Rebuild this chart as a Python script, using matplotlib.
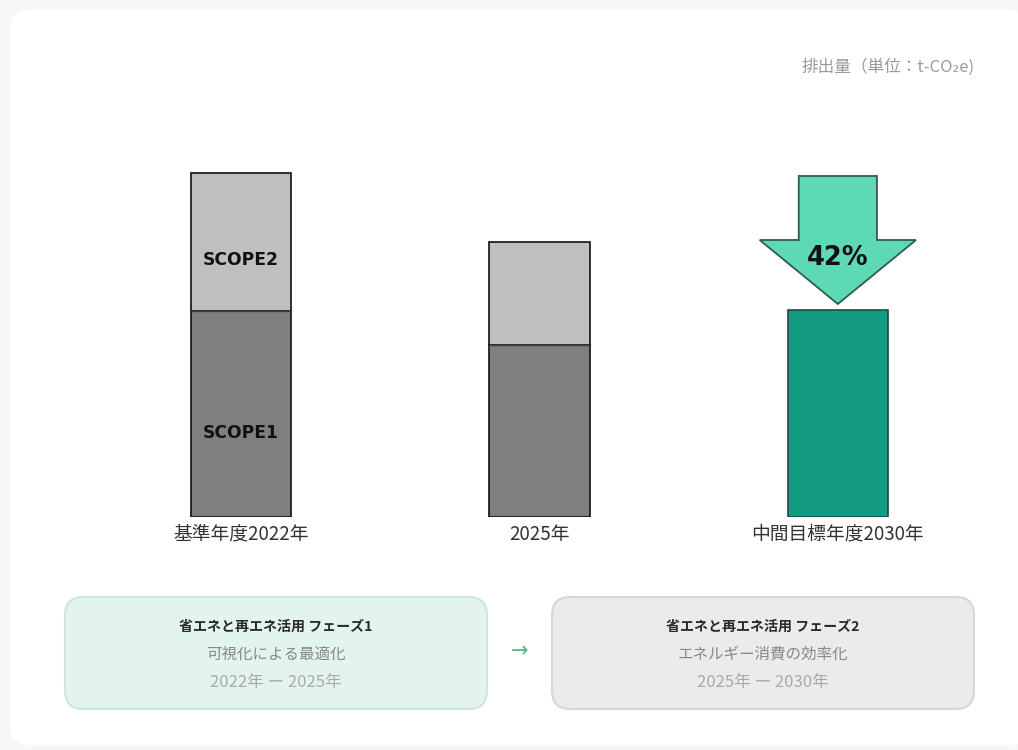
import matplotlib
matplotlib.use("Agg")
import matplotlib.pyplot as plt
from matplotlib.patches import FancyBboxPatch, Polygon
import numpy as np

plt.rcParams['font.family'] = ['Noto Sans CJK JP', 'DejaVu Sans']

# ---- data ----
categories = ["基準年度2022年", "2025年", "中間目標年度2030年"]
scope1 = [206, 172, 0]
scope2 = [138, 103, 0]
target = [0, 0, 207]
segment_labels = ["SCOPE1", "SCOPE2"]
reduction_label = "42%"
unit_label = "排出量（単位：t-CO₂e)"
phase_titles = ["省エネと再エネ活用 フェーズ1", "省エネと再エネ活用 フェーズ2"]
phase_subtitles = ["可視化による最適化", "エネルギー消費の効率化"]
phase_periods = ["2022年 ー 2025年", "2025年 ー 2030年"]

W, H = 1018, 750
fig = plt.figure(figsize=(W / 100, H / 100), dpi=100)
fig.patch.set_facecolor("#f6f8f7")

def fx(px):
    return px / W

def fy(py):
    return 1 - py / H

# white card
card = FancyBboxPatch((fx(10), fy(745)), fx(1030) - fx(10), fy(10) - fy(745),
                      boxstyle="round,pad=0,rounding_size=0.02",
                      transform=fig.transFigure, facecolor="white",
                      edgecolor="none", zorder=-10, mutation_aspect=W / H)
fig.patches.append(card)

# axes for the bars
ax_left, ax_right = 92, 987
base_py, top_py = 517, 160
ax = fig.add_axes([fx(ax_left), fy(base_py), fx(ax_right - ax_left), (base_py - top_py) / H])
ax.set_zorder(5)
ax.set_facecolor("none")
x = np.arange(len(categories))
width = 0.336
ax.set_xlim(-0.5, 2.5)
ax.set_ylim(0, base_py - top_py)
for s in ax.spines.values():
    s.set_visible(False)
ax.set_yticks([])
ax.set_xticks(x)
ax.set_xticklabels(categories, fontsize=13.5, color="#333333")
ax.tick_params(axis="x", length=0, pad=5)

ax.bar(x[:2], scope1[:2], width, color="#7f7f7f", edgecolor="#111111", linewidth=1.2)
ax.bar(x[:2], scope2[:2], width, bottom=scope1[:2], color="#bfbfbf", edgecolor="#111111", linewidth=1.2)
for xi, s1 in zip(x[:2], scope1[:2]):
    ax.plot([xi - width / 2, xi + width / 2], [s1, s1], color="#404040", lw=1.0)
ax.bar(x[2], target[2], width, color="#149c83", edgecolor="#1d4c43", linewidth=1.2)

ax.text(x[0], scope1[0] * 0.41, segment_labels[0], ha="center", va="center",
        fontsize=12.3, fontweight="bold", color="#111111", family="DejaVu Sans")
ax.text(x[0], scope1[0] + scope2[0] * 0.37, segment_labels[1], ha="center", va="center",
        fontsize=12.3, fontweight="bold", color="#111111", family="DejaVu Sans")

# down arrow above target bar
t = target[2]
cx = x[2]
shaft_hw = 0.131
head_hw = 0.262
tip = t + 6
neck = t + 70
top = t + 134
arrow = Polygon([[cx - shaft_hw, top], [cx + shaft_hw, top], [cx + shaft_hw, neck],
                 [cx + head_hw, neck], [cx, tip], [cx - head_hw, neck],
                 [cx - shaft_hw, neck]], closed=True,
                facecolor="#5dd9b6", edgecolor="#2b5d51", linewidth=1.3, zorder=3,
                clip_on=False)
ax.add_patch(arrow)
ax.text(cx, neck - 18, reduction_label, ha="center", va="center", fontsize=18.5,
        fontweight="bold", color="#111111", zorder=4, family="DejaVu Sans")

# unit label
fig.text(fx(975), fy(67), unit_label, ha="right", va="center", fontsize=12, color="#9a9a9a")

# phase boxes
boxes = [(65, 487, "#e3f4ec", "#cde6da"), (552, 974, "#e9eceb", "#d3d8d6")]
for i, (l, r, fc, ec) in enumerate(boxes):
    p = FancyBboxPatch((fx(l), fy(709)), fx(r) - fx(l), fy(597) - fy(709),
                       boxstyle="round,pad=0,rounding_size=0.018",
                       transform=fig.transFigure, facecolor=fc, edgecolor=ec,
                       linewidth=1.5, zorder=1, mutation_aspect=W / H)
    fig.patches.append(p)
    cxp = (l + r) / 2
    fig.text(fx(cxp), fy(627), phase_titles[i], ha="center", va="center",
             fontsize=10.1, fontweight="bold", color="#2a2a2a")
    fig.text(fx(cxp), fy(654), phase_subtitles[i], ha="center", va="center",
             fontsize=11.2, color="#888888")
    fig.text(fx(cxp), fy(683), phase_periods[i], ha="center", va="center",
             fontsize=12, color="#aaaaaa")

fig.text(fx(520), fy(651), "→", ha="center", va="center", fontsize=15,
         color="#55b985", family="DejaVu Sans")

fig.savefig("out.png", dpi=100, facecolor=fig.get_facecolor())
